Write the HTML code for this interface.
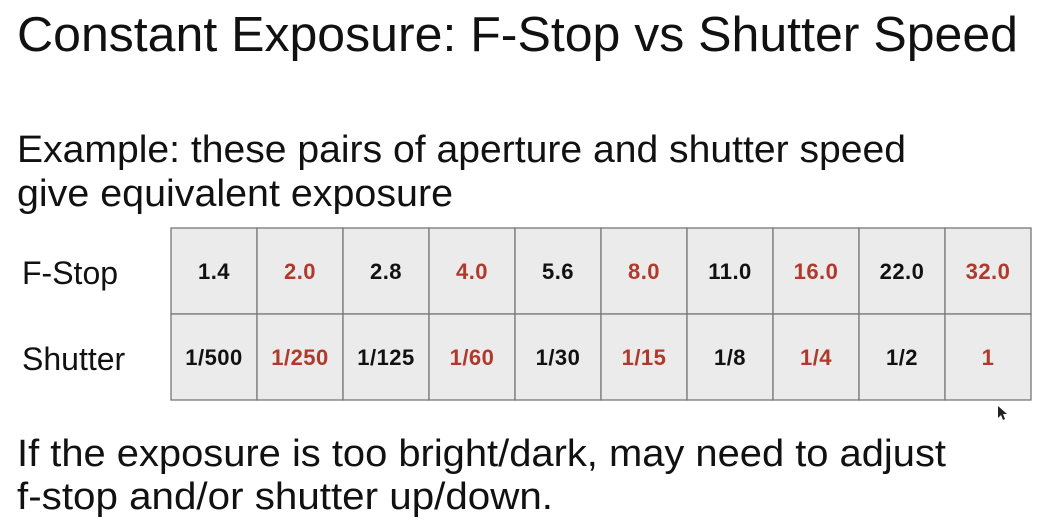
<!DOCTYPE html>
<html><head><meta charset="utf-8"><style>
html,body{margin:0;padding:0;background:#fff;}
svg{display:block;font-family:"Liberation Sans",sans-serif;}
</style></head><body>
<svg width="1047" height="525" viewBox="0 0 1047 525">
<text x="17" y="51" font-size="49" fill="#111" textLength="1001" lengthAdjust="spacingAndGlyphs">Constant Exposure: F-Stop vs Shutter Speed</text>
<text x="17" y="162" font-size="38" fill="#111" textLength="889" lengthAdjust="spacingAndGlyphs">Example: these pairs of aperture and shutter speed</text>
<text x="17" y="206" font-size="38" fill="#111" textLength="436" lengthAdjust="spacingAndGlyphs">give equivalent exposure</text>
<text x="22" y="284" font-size="32" fill="#111">F-Stop</text>
<text x="22" y="370" font-size="32" fill="#111">Shutter</text>
<g id="tbl"></g>
<text x="17" y="466" font-size="38" fill="#111" textLength="929" lengthAdjust="spacingAndGlyphs">If the exposure is too bright/dark, may need to adjust</text>
<text x="17" y="509" font-size="38" fill="#111" textLength="536" lengthAdjust="spacingAndGlyphs">f-stop and/or shutter up/down.</text>
<path d="M998 406 L998 418 L1001 415 L1003 420 L1005 419 L1003 414 L1007 414 Z" fill="#222"/>
</svg>
<script>
const fstops=["1.4","2.0","2.8","4.0","5.6","8.0","11.0","16.0","22.0","32.0"];
const shutters=["1/500","1/250","1/125","1/60","1/30","1/15","1/8","1/4","1/2","1"];
const ns="http://www.w3.org/2000/svg";
const g=document.getElementById('tbl');
const x0=171,x1=1031,y0=228,ym=314,y1=400,cw=(x1-x0)/fstops.length;
const rows=[fstops,shutters],ry=[y0,ym];
rows.forEach((r,ri)=>{r.forEach((v,i)=>{
 const rc=document.createElementNS(ns,'rect');
 
 
 rc.setAttribute('x',x0+i*cw);rc.setAttribute('y',ry[ri]);rc.setAttribute('width',cw);rc.setAttribute('height',86);
 rc.setAttribute('fill','#ebebeb');rc.setAttribute('stroke','#777');rc.setAttribute('stroke-width','1.3');
 g.appendChild(rc);
 const t=document.createElementNS(ns,'text');
 
 
 t.setAttribute('x',x0+i*cw+cw/2);t.setAttribute('y',ry[ri]+51);
 t.setAttribute('text-anchor','middle');t.setAttribute('font-size','22');t.setAttribute('font-weight','bold');
 t.setAttribute('letter-spacing','0.5');
 t.setAttribute('fill',i%2?'#b0392b':'#111');
 t.textContent=v;g.appendChild(t);
});});
</script>
</body></html>
